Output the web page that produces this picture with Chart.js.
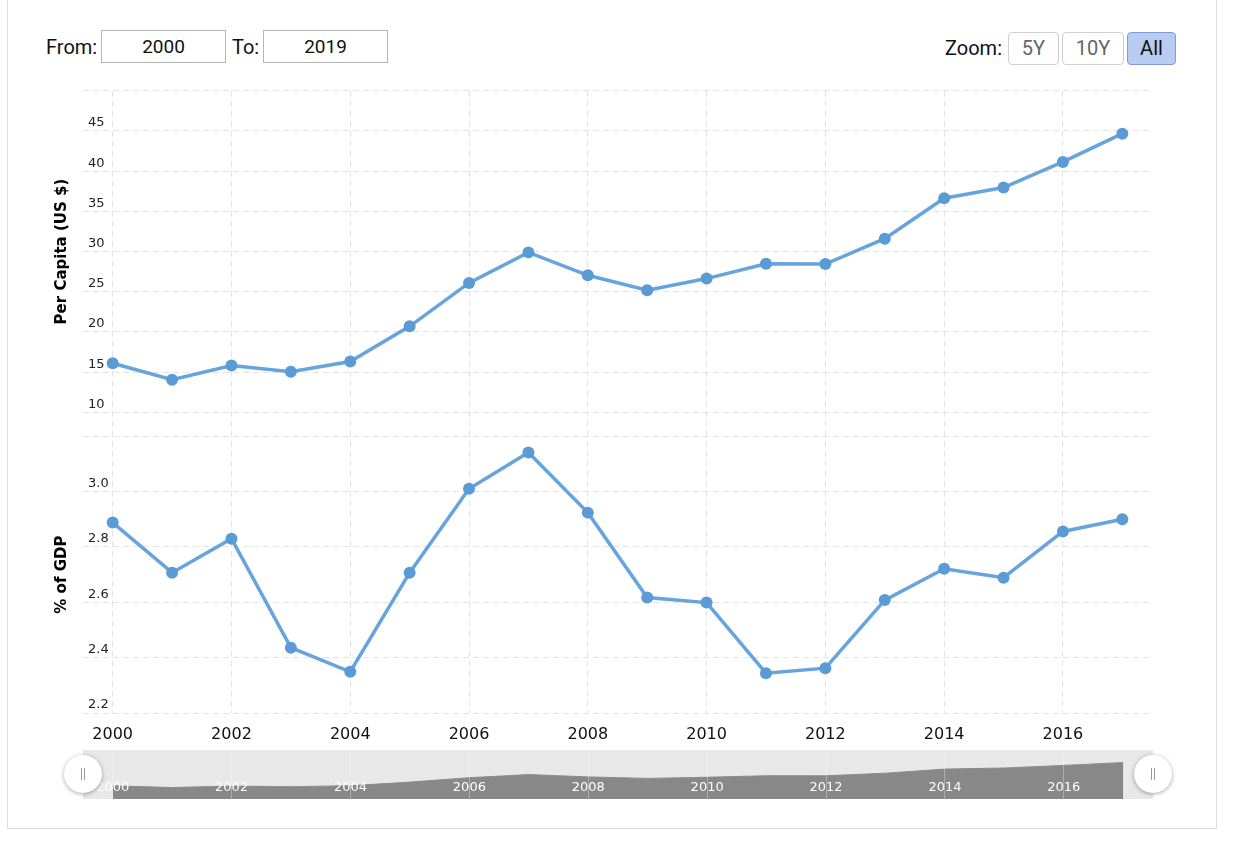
<!DOCTYPE html>
<html>
<head>
<meta charset="utf-8">
<script src="https://cdn.jsdelivr.net/npm/chart.js@4.4.1/dist/chart.umd.min.js"></script>
<style>
    body {margin: 0; width: 1240px; height: 853px; overflow: hidden; background: #fff; font-family: Roboto, sans-serif;}
    .card {position: absolute; left: 7px; top: -2px; width: 1208px; height: 829px; border: 1px solid #dedede;}
    .lbl {position: absolute; font-size: 20px; line-height: 24px; color: #111;}
    .inp {position: absolute; top: 30px; height: 33px; box-sizing: border-box; border: 1px solid #b5b5b5;
          font-size: 19px; line-height: 31px; text-align: center; color: #111;}
    .btn {position: absolute; top: 32px; height: 33px; box-sizing: border-box; border: 1px solid #cfcfcf; border-radius: 4px;
          font-size: 20px; line-height: 31px; text-align: center; color: #666; background: #fff;}
    .btn.on {background: #b8ccf2; border-color: #7f9dd3; color: #111;}
    .main {position: absolute; left: 0; top: 78px; width: 1240px; height: 672px;}
    .nav {position: absolute; left: 83px; top: 750px; width: 1070px; height: 49px; background: #e8e8e8;}
    .handle {position: absolute; top: 755px; width: 38px; height: 38px; margin-left: -19px; border-radius: 50%;
             background: #fff; box-shadow: 0 1px 4px rgba(0, 0, 0, 0.35);}
    .handle::before, .handle::after {content: ''; position: absolute; top: 13px; width: 1px; height: 12px; background: #999;}
    .handle::before {left: 17px;}
    .handle::after {left: 20px;}
</style>
</head>
<body>
<div class="card"></div>
<div class="lbl" style="left:46px;top:35px">From:</div>
<div class="inp" style="left:101px;width:125px">2000</div>
<div class="lbl" style="left:232px;top:35px">To:</div>
<div class="inp" style="left:263px;width:125px">2019</div>
<div class="lbl" style="left:945px;top:36px">Zoom:</div>
<div class="btn" style="left:1008px;width:51px">5Y</div>
<div class="btn" style="left:1062px;width:62px">10Y</div>
<div class="btn on" style="left:1127px;width:49px">All</div>

<div class="main"><canvas class="main-chart"></canvas></div>
<div class="nav"><canvas class="nav-chart"></canvas></div>
<div class="handle" style="left:83px"></div>
<div class="handle" style="left:1153px"></div>

<script>
//data
const years = ['2000', '2001', '2002', '2003', '2004', '2005', '2006', '2007', '2008',
    '2009', '2010', '2011', '2012', '2013', '2014', '2015', '2016', '2017'];
const perCapita = [16.11, 14.06, 15.83, 15.05, 16.32, 20.7, 26.1, 29.9, 27.05,
    25.2, 26.64, 28.48, 28.45, 31.6, 36.64, 37.96, 41.15, 44.67];
const pctGdp = [2.888, 2.707, 2.83, 2.436, 2.349, 2.707, 3.01, 3.141, 2.924,
    2.617, 2.599, 2.344, 2.362, 2.608, 2.721, 2.689, 2.856, 2.9];
const perCapitaTicks = [10, 15, 20, 25, 30, 35, 40, 45, 50];
const pctGdpTicks = [2.2, 2.4, 2.6, 2.8, 3.0, 3.2];

const lineColor = '#67a3dc';
const pointColor = '#5b9bd5';
const gridColor = '#e3e3e3';
const tickFont = {family: 'DejaVu Sans', size: 13};
const titleFont = {family: 'DejaVu Sans', size: 15, weight: 'bold'};

// even years only get a grid line and a label
const evenOnly = (ctx) => ctx.index % 2 === 0 ? gridColor : 'rgba(0,0,0,0)';

function yScale(ticks, weight, stackWeight, title, fmt) {
    return {
        type: 'linear',
        position: 'left',
        stack: 'main',
        stackWeight: stackWeight,
        weight: weight,
        min: ticks[0],
        max: ticks[ticks.length - 1],
        afterBuildTicks: (s) => {
            s.ticks = ticks.map(v => ({value: v}));
        },
        afterFit: (s) => {
            s.width = 83;
        },
        grid: {color: gridColor, drawTicks: false},
        border: {display: false, dash: [6, 4]},
        ticks: {
            mirror: true,
            padding: 5,
            labelOffset: -8,
            color: '#222',
            font: tickFont,
            callback: (v, i) => i === ticks.length - 1 ? '' : fmt(v)
        },
        title: {display: true, text: title, color: '#000', font: titleFont, padding: {top: 53, bottom: 0}}
    };
}

//Chart 1 - both panels share one x axis
const ctx = document.querySelector('.main-chart');
const chart = new Chart(ctx, {
    type: 'line',
    data: {
        labels: years,
        datasets: [{
                label: 'Per Capita (US $)',
                data: perCapita,
                yAxisID: 'yTop',
                borderColor: lineColor,
                borderWidth: 3.5,
                pointRadius: 6,
                pointBackgroundColor: pointColor,
                pointBorderWidth: 0,
                tension: 0
            }, {
                label: '% of GDP',
                data: pctGdp,
                yAxisID: 'yBottom',
                borderColor: lineColor,
                borderWidth: 3.5,
                pointRadius: 6,
                pointBackgroundColor: pointColor,
                pointBorderWidth: 0,
                tension: 0
            }]
    },
    options: {
        responsive: true,
        maintainAspectRatio: false,
        animation: false,
        layout: {padding: {left: 0, right: 88, top: 10, bottom: 7}},
        scales: {
            x: {
                type: 'category',
                offset: true,
                afterFit: (s) => {
                    s.height = 30;
                },
                grid: {color: evenOnly, drawTicks: false, offset: false},
                border: {display: false, dash: [6, 4]},
                ticks: {
                    autoSkip: false,
                    maxRotation: 0,
                    padding: 12,
                    color: '#111',
                    font: {family: 'DejaVu Sans', size: 16},
                    callback: (v, i) => i % 2 === 0 ? years[i] : ''
                }
            },
            yTop: yScale(perCapitaTicks, 2, 323, 'Per Capita (US $)', v => String(v)),
            yGap: {
                type: 'linear',
                position: 'left',
                stack: 'main',
                stackWeight: 24,
                weight: 1,
                afterFit: (s) => {
                    s.width = 83;
                },
                grid: {display: false},
                border: {display: false},
                ticks: {display: false}
            },
            yBottom: yScale(pctGdpTicks, 0, 278, '% of GDP', v => v.toFixed(1))
        },
        plugins: {
            legend: {display: false},
            tooltip: {enabled: false}
        }
    }
});

//Chart 2 - navigator, labels and lines drawn over the area
const ctx2 = document.querySelector('.nav-chart');
const navChart = new Chart(ctx2, {
    type: 'line',
    data: {
        labels: years,
        datasets: [{
                data: perCapita,
                borderColor: '#8a8a8a',
                borderWidth: 1,
                backgroundColor: '#888888',
                fill: 'origin',
                pointRadius: 0,
                tension: 0
            }]
    },
    options: {
        responsive: true,
        maintainAspectRatio: false,
        animation: false,
        layout: {padding: 0},
        scales: {
            x: {
                type: 'category',
                offset: true,
                afterFit: (s) => {
                    s.height = 0;
                },
                grid: {
                    z: 1,
                    color: (c) => c.index % 2 === 0 ? 'rgba(255,255,255,0.3)' : 'rgba(0,0,0,0)',
                    drawTicks: false,
                    offset: false
                },
                border: {display: false},
                ticks: {
                    z: 2,
                    autoSkip: false,
                    maxRotation: 0,
                    mirror: true,
                    padding: 4,
                    color: '#fff',
                    font: tickFont,
                    callback: (v, i) => i % 2 === 0 ? years[i] : ''
                }
            },
            y: {display: false, min: 0, max: 60}
        },
        plugins: {
            legend: {display: false},
            tooltip: {enabled: false}
        }
    }
});
</script>
</body>
</html>
